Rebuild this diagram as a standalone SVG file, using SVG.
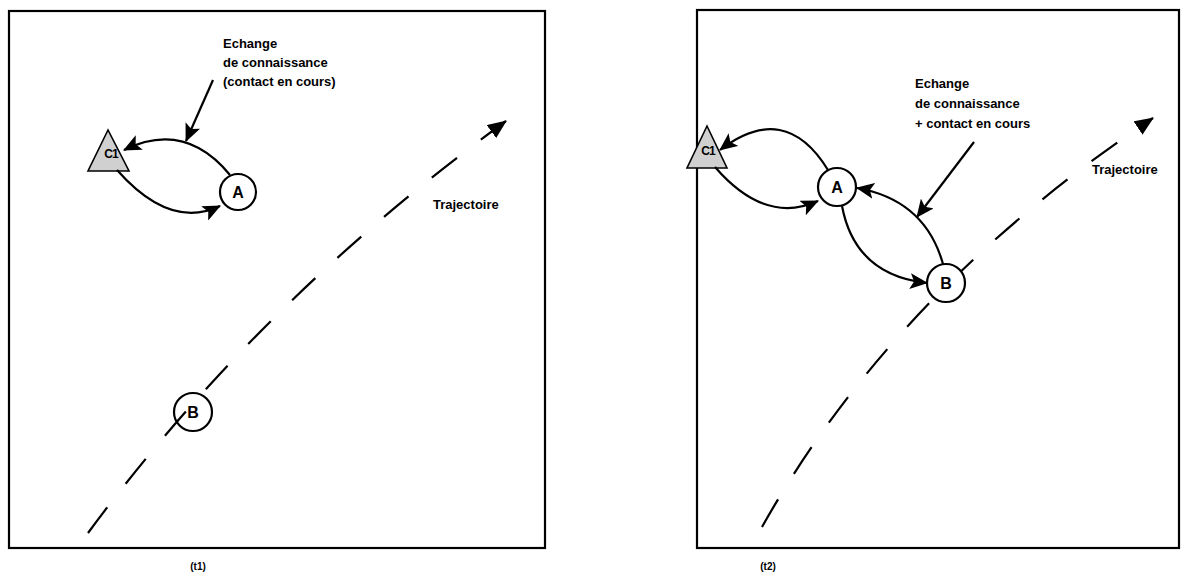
<svg xmlns="http://www.w3.org/2000/svg" width="1183" height="582" viewBox="0 0 1183 582">
<style>
  .frame{fill:none;stroke:#000;stroke-width:2.2}
  .arc{fill:none;stroke:#000;stroke-width:2.2;marker-end:url(#ah)}
  .traj{fill:none;stroke:#000;stroke-width:2.2;stroke-dasharray:32 30;marker-end:url(#ah2)}
  .node{fill:#fff;stroke:#000;stroke-width:2.2}
  .agent{fill:#d0d0d0;stroke:#000;stroke-width:1.6}
  text{font-family:"Liberation Sans",Arial,sans-serif;font-weight:bold;fill:#000}
  .lbl{font-size:13px}
  .nl{font-size:16px;text-anchor:middle}
  .cl{font-size:12px;text-anchor:middle;letter-spacing:-1px}
  .cap{font-size:10px;text-anchor:middle}
</style>
<defs>
  <marker id="ah" markerUnits="userSpaceOnUse" markerWidth="19" markerHeight="16" refX="17" refY="8" orient="auto">
    <path d="M0,0 L18,8 L0,16 L4,8 z" fill="#000"/>
  </marker>
  <marker id="ah2" markerUnits="userSpaceOnUse" markerWidth="20" markerHeight="16" refX="18" refY="8" orient="auto">
    <path d="M0,0 L19,8 L0,16 z" fill="#000"/>
  </marker>
</defs>

<g id="frame-t1"><rect class="frame" x="9" y="11" width="536" height="537"/></g>
<g id="frame-t2"><rect class="frame" x="697" y="10" width="482" height="538"/></g>

<!-- Panel t1 -->
<g id="t1-C1"><polygon class="agent" points="108,130 88,171 129,171"/><text class="cl" x="111" y="158">C1</text></g>
<g id="t1-A"><circle class="node" cx="238" cy="192" r="18"/><text class="nl" x="238" y="198">A</text></g>
<g id="t1-B"><circle class="node" cx="193" cy="412" r="19"/><text class="nl" x="193" y="418">B</text></g>
<g id="t1-label"><text class="lbl" x="223" y="48">Echange</text><text class="lbl" x="223" y="67">de connaissance</text><text class="lbl" x="223" y="86">(contact en cours)</text></g>
<g id="t1-traj-label"><text class="lbl" x="433" y="209">Trajectoire</text></g>
<text class="cap" x="198" y="570">(t1)</text>

<!-- Panel t2 -->
<g id="t2-C1"><polygon class="agent" points="707,126 687,168 727,168"/><text class="cl" x="708" y="155">C1</text></g>
<g id="t2-label"><text class="lbl" x="915" y="88">Echange</text><text class="lbl" x="915" y="108">de connaissance</text><text class="lbl" x="915" y="128">+ contact en cours</text></g>
<g id="t2-traj-label"><text class="lbl" x="1092" y="174">Trajectoire</text></g>
<text class="cap" x="768" y="570">(t2)</text>

<g id="connectors">
  <path class="arc" d="M230,175 Q185,120 124,150"/>
  <path class="arc" d="M117,170 Q170,230 220,206"/>
  <path class="arc" d="M213,80 L186,141"/>
  <path class="traj" d="M88,533 Q260,300 506,121"/>
  <path class="traj" d="M762,527 Q895,290 1153,118"/>
  <path class="arc" d="M828,170 Q785,100 720,150"/>
  <path class="arc" d="M715,167 Q765,225 818,201"/>
  <path class="arc" d="M842,206 Q855,275 927,283"/>
  <path class="arc" d="M943,264 Q925,200 857,188"/>
  <path class="arc" d="M974,142 L917,217"/>
</g>

<g id="t2-A"><circle class="node" cx="837" cy="187" r="19"/><text class="nl" x="837" y="193">A</text></g>
<g id="t2-B"><circle class="node" cx="946" cy="283" r="19"/><text class="nl" x="946" y="289">B</text></g>
</svg>
